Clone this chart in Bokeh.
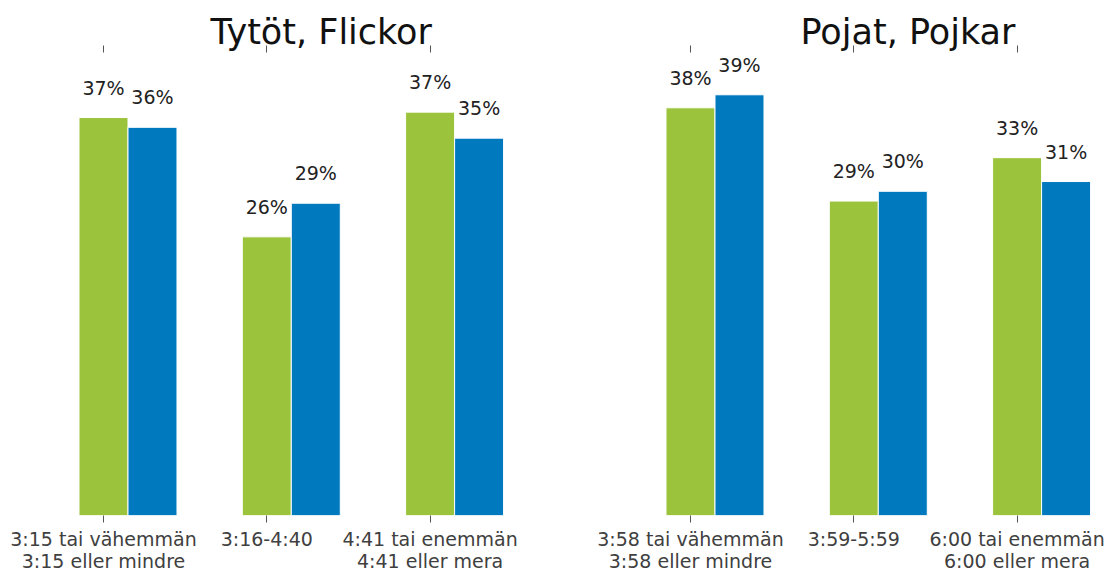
from bokeh.plotting import figure
from bokeh.layouts import row
from bokeh.models import Range1d, LinearAxis, FixedTicker
from bokeh.embed import file_html
from bokeh.resources import INLINE
from bokeh.core.properties import value

# ---------------- data ----------------
titles = ["Tytöt, Flickor", "Pojat, Pojkar"]
girls_categories = ["3:15 tai vähemmän\n3:15 eller mindre", "3:16-4:40", "4:41 tai enemmän\n4:41 eller mera"]
boys_categories = ["3:58 tai vähemmän\n3:58 eller mindre", "3:59-5:59", "6:00 tai enemmän\n6:00 eller mera"]
girls_green = [36.7, 25.7, 37.2]
girls_blue = [35.8, 28.8, 34.8]
boys_green = [37.6, 29.0, 33.0]
boys_blue = [38.8, 29.9, 30.8]

# ---------------- style ----------------
GREEN = "#9BC33C"
BLUE = "#0079BF"
FONT = "DejaVu Sans"
BAR_W = 0.3
PX_PER_CAT = 163.3
HEIGHT = 574
Y_TOP = 42.7
FRAME_TOP = 52
FRAME_BOTTOM = 516


def make_panel(title, cats, green, blue, fig_left, width, bl, br, first_tick_px, title_left_px):
    frame_left = fig_left + bl
    frame_right = fig_left + width - br
    x0 = (frame_left - first_tick_px) / PX_PER_CAT
    x1 = (frame_right - first_tick_px) / PX_PER_CAT
    p = figure(width=width, height=HEIGHT, output_backend="svg", toolbar_location=None,
               x_range=Range1d(x0, x1), y_range=Range1d(0, Y_TOP),
               y_axis_location=None,
               min_border_left=bl, min_border_right=br,
               min_border_top=FRAME_TOP, min_border_bottom=HEIGHT - FRAME_BOTTOM)
    p.outline_line_color = None
    p.xgrid.visible = False
    p.ygrid.visible = False

    p.title.text = title
    p.title.align = "left"
    p.title.offset = title_left_px - frame_left
    p.title.standoff = -13
    p.title.text_font = FONT
    p.title.text_font_size = "35px"
    p.title.text_font_style = "normal"
    p.title.text_color = "#111111"

    idx = list(range(len(cats)))
    xg = [i for i in idx]
    xb = [i + BAR_W for i in idx]
    p.vbar(x=xg, top=green, width=BAR_W, fill_color=GREEN, line_color="white", line_width=1)
    p.vbar(x=xb, top=blue, width=BAR_W, fill_color=BLUE, line_color="white", line_width=1)

    for xs, vals in ((xg, green), (xb, blue)):
        p.text(x=xs, y=vals, text=[f"{round(v)}%" for v in vals], text_align="center",
               text_baseline="alphabetic", y_offset=-30, text_font=value(FONT),
               text_font_size="19px", text_color="#222222")

    ax = p.xaxis[0]
    ax.ticker = FixedTicker(ticks=idx)
    ax.major_label_overrides = {i: c for i, c in zip(idx, cats)}
    ax.axis_line_color = None
    ax.major_tick_in = 0
    ax.major_tick_out = 7
    ax.major_tick_line_color = "#555555"
    ax.minor_tick_line_color = None
    ax.major_label_text_font = FONT
    ax.major_label_text_font_size = "19px"
    ax.major_label_text_color = "#404040"
    ax.major_label_standoff = 5
    ax.major_label_text_line_height = 1.0

    top = LinearAxis(ticker=FixedTicker(ticks=idx), axis_line_color=None,
                     major_tick_in=0, major_tick_out=7, major_tick_line_color="#555555",
                     minor_tick_line_color=None, major_label_text_font_size="0px",
                     major_label_standoff=0)
    top.major_label_overrides = {i: "" for i in idx}
    p.add_layout(top, "above")
    return p


left = make_panel(titles[0], girls_categories, girls_green, girls_blue,
                  fig_left=0, width=558, bl=38, br=10, first_tick_px=103, title_left_px=210)
right = make_panel(titles[1], boys_categories, boys_green, boys_blue,
                   fig_left=558, width=548, bl=10, br=0, first_tick_px=690, title_left_px=800)

layout = row(left, right, spacing=0)
open("out.html", "w").write(file_html(layout, INLINE))
